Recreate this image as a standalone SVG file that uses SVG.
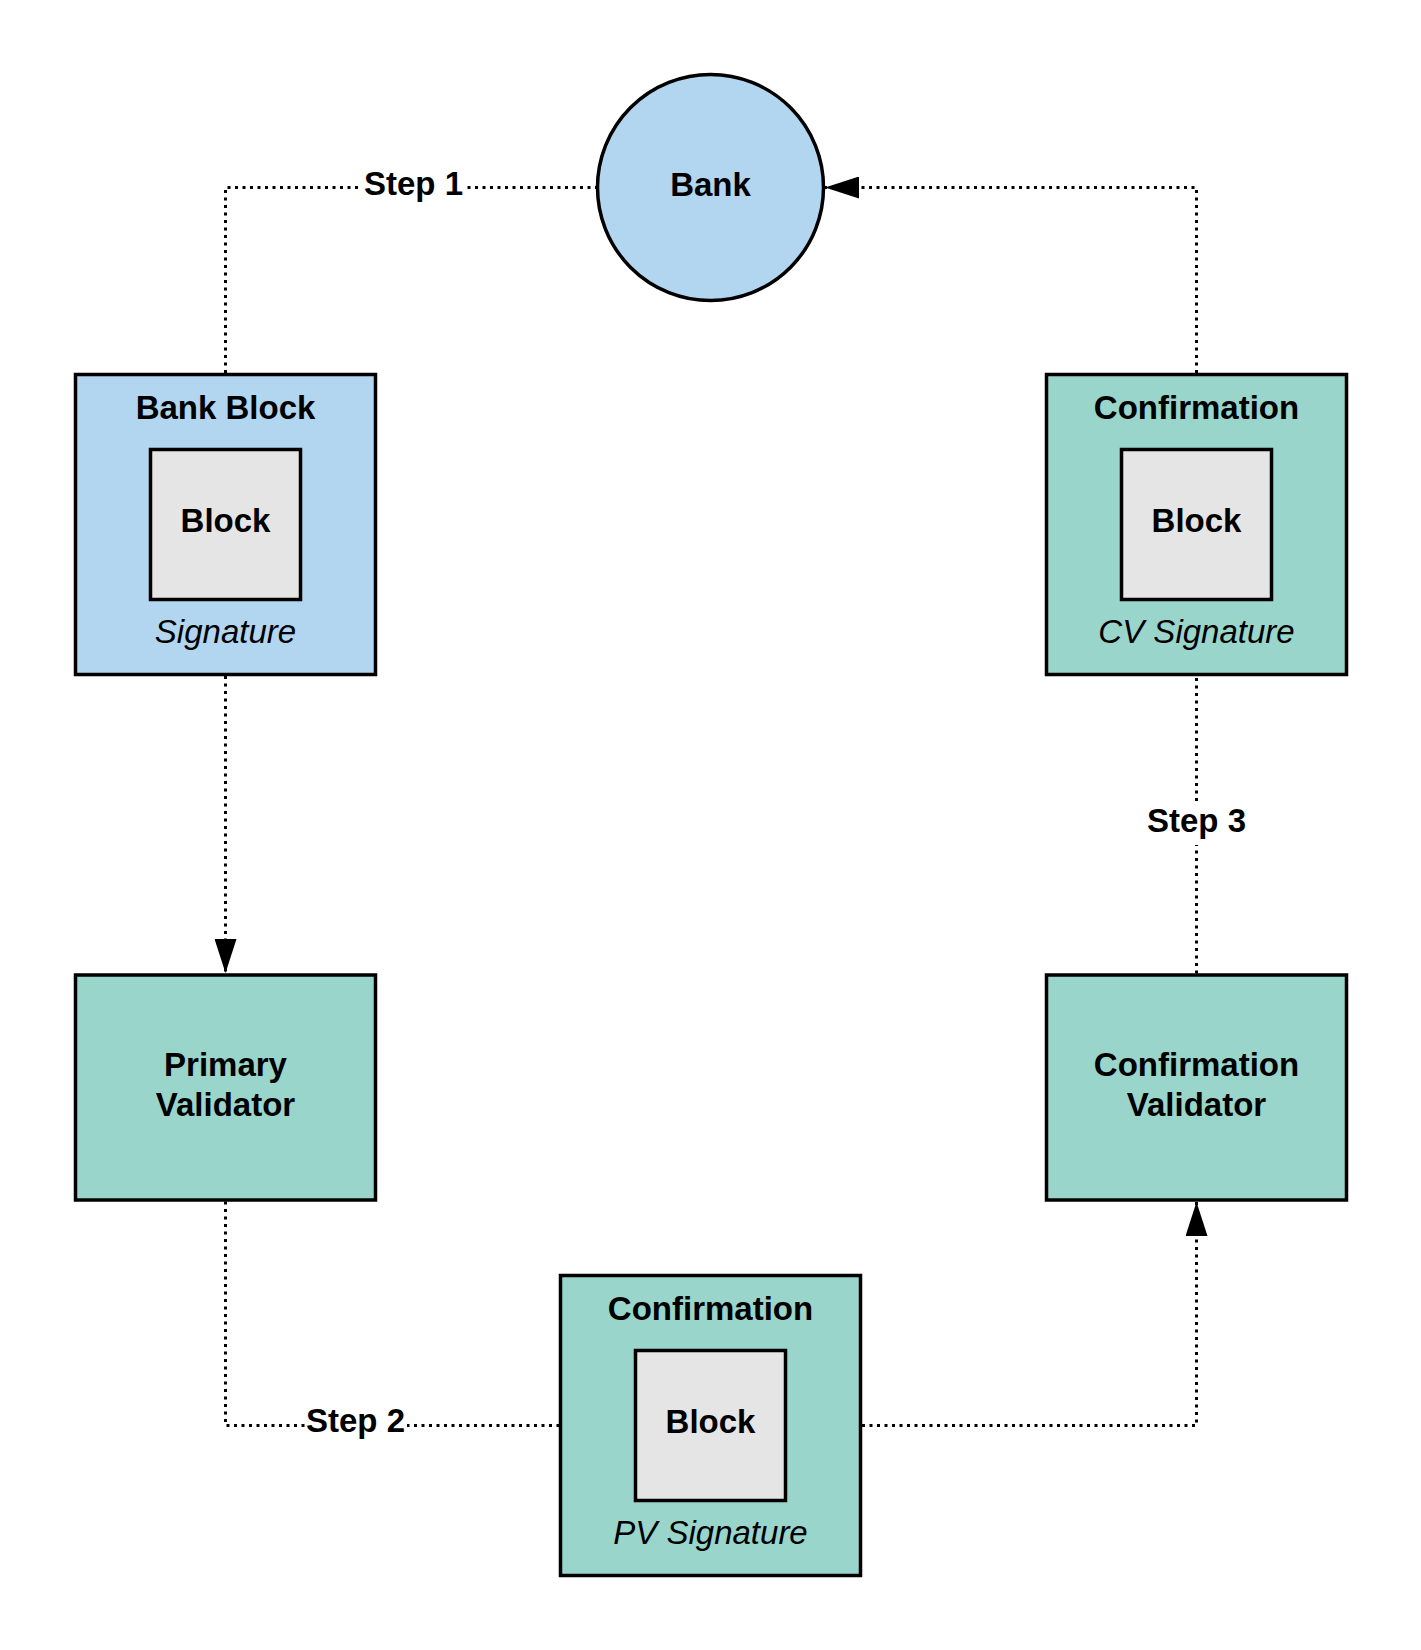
<svg xmlns="http://www.w3.org/2000/svg" width="1421" height="1650" viewBox="0 0 1421 1650">
<style>
.t{font-family:"Liberation Sans",Arial,sans-serif;font-size:33px;font-weight:bold;fill:#000;text-anchor:middle}
.i{font-family:"Liberation Sans",Arial,sans-serif;font-size:33px;font-style:italic;fill:#000;text-anchor:middle}
.blue{fill:#B2D6EF;stroke:#000;stroke-width:3.5}
.teal{fill:#99D5CA;stroke:#000;stroke-width:3.5}
.gray{fill:#E5E5E5;stroke:#000;stroke-width:3.5}
.c{fill:none;stroke:#000;stroke-width:3;stroke-dasharray:3 4.5}
.bg{fill:#fff}
</style>
<defs>
<marker id="arr" markerWidth="34" markerHeight="22" refX="34" refY="11" orient="auto" markerUnits="userSpaceOnUse">
<path d="M0,0 L34,11 L0,22 z" fill="#000"/>
</marker>
</defs>
<rect width="1421" height="1650" fill="#fff"/>
<g id="connectors">
<path class="c" d="M225.5,373 V187.5 H597"/>
<path class="c" d="M225.5,676 V973" marker-end="url(#arr)"/>
<path class="c" d="M225.5,1201.5 V1425.5 H559"/>
<path class="c" d="M862,1425.5 H1196.5 V1202" marker-end="url(#arr)"/>
<path class="c" d="M1196.5,973.5 V676"/>
<path class="c" d="M1196.5,373 V187.5 H825" marker-end="url(#arr)"/>
<rect class="bg" x="362" y="170" width="103" height="34"/>
<text class="t" x="413.5" y="195">Step 1</text>
<rect class="bg" x="305" y="1408" width="102" height="34"/>
<text class="t" x="355.5" y="1432">Step 2</text>
<rect class="bg" x="1145" y="803" width="103" height="42"/>
<text class="t" x="1196.5" y="832">Step 3</text>
</g>
<g id="bank">
<circle class="blue" cx="710.5" cy="187.5" r="113"/>
<text class="t" x="710.5" y="196">Bank</text>
</g>
<g id="bank-block">
<rect class="blue" x="75.5" y="374.5" width="300" height="300"/>
<text class="t" x="225.5" y="418.5">Bank Block</text>
<rect class="gray" x="150.5" y="449.5" width="150" height="150"/>
<text class="t" x="225.5" y="532">Block</text>
<text class="i" x="225.5" y="643">Signature</text>
</g>
<g id="confirmation-cv">
<rect class="teal" x="1046.5" y="374.5" width="300" height="300"/>
<text class="t" x="1196.5" y="418.5">Confirmation</text>
<rect class="gray" x="1121.5" y="449.5" width="150" height="150"/>
<text class="t" x="1196.5" y="532">Block</text>
<text class="i" x="1196.5" y="643">CV Signature</text>
</g>
<g id="primary-validator">
<rect class="teal" x="75.5" y="975" width="300" height="225"/>
<text class="t" x="225.5" y="1076">Primary</text>
<text class="t" x="225.5" y="1116">Validator</text>
</g>
<g id="confirmation-validator">
<rect class="teal" x="1046.5" y="975" width="300" height="225"/>
<text class="t" x="1196.5" y="1076">Confirmation</text>
<text class="t" x="1196.5" y="1116">Validator</text>
</g>
<g id="confirmation-pv">
<rect class="teal" x="560.5" y="1275.5" width="300" height="300"/>
<text class="t" x="710.5" y="1319.5">Confirmation</text>
<rect class="gray" x="635.5" y="1350.5" width="150" height="150"/>
<text class="t" x="710.5" y="1433">Block</text>
<text class="i" x="710.5" y="1544">PV Signature</text>
</g>
</svg>
